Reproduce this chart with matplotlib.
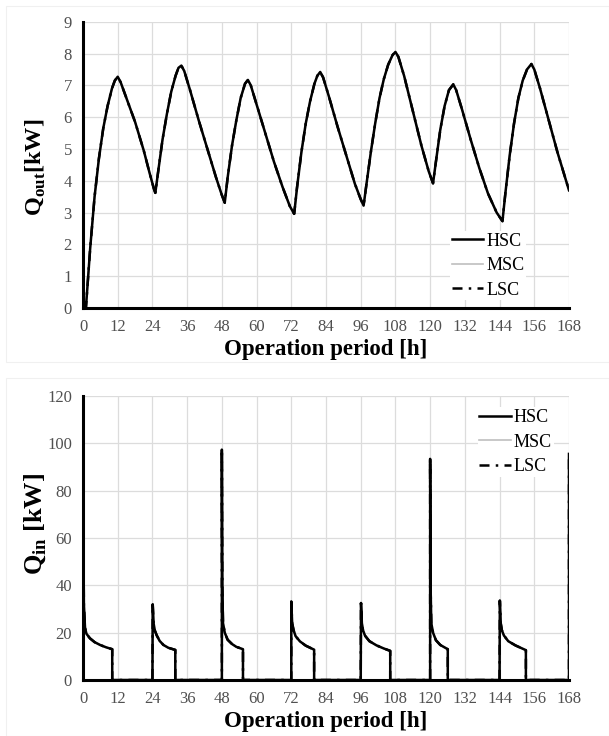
import matplotlib.pyplot as plt
from matplotlib.patches import Rectangle

plt.rcParams['font.family'] = ['Liberation Serif', 'DejaVu Serif']
plt.rcParams['mathtext.fontset'] = 'custom'
plt.rcParams['mathtext.rm'] = 'Liberation Serif'
plt.rcParams['mathtext.bf'] = 'Liberation Serif:bold'

# heat output (all three storage cases overlap in the source figure)
t_out = [0, 1, 2.5, 4, 5.5, 7, 8.5, 10, 11, 12, 13, 15, 18, 21, 23, 24.5, 25,
         26, 27.5, 29, 30.5, 32, 33, 34, 35, 37, 40, 43, 46, 48, 49,
         50, 51.5, 53, 54.5, 56, 57, 58, 60, 63, 66, 69, 71.5, 73,
         74, 75.5, 77, 78.5, 80, 81, 82, 83, 85, 88, 91, 94, 96, 97,
         98, 99.5, 101, 102.5, 104, 105.5, 107, 108, 109, 111, 114, 117, 119.5, 121,
         122, 123.5, 125, 126.5, 128, 129, 131, 134, 137, 140, 143, 145,
         146, 147.5, 149, 150.5, 152, 153.5, 155, 156, 158, 161, 164, 166.5, 168]
q_out = [0, 0, 1.9, 3.5, 4.7, 5.65, 6.35, 6.9, 7.15, 7.27, 7.1, 6.6, 5.85, 4.95, 4.25, 3.75, 3.62,
         4.3, 5.3, 6.1, 6.8, 7.3, 7.55, 7.62, 7.45, 6.85, 5.9, 5.0, 4.1, 3.55, 3.31,
         4.1, 5.1, 5.9, 6.6, 7.05, 7.17, 7.0, 6.4, 5.5, 4.6, 3.8, 3.2, 2.96,
         3.8, 4.9, 5.8, 6.5, 7.05, 7.3, 7.42, 7.25, 6.65, 5.7, 4.8, 3.9, 3.42, 3.22,
         3.9, 4.9, 5.8, 6.6, 7.2, 7.65, 7.95, 8.05, 7.9, 7.3, 6.2, 5.1, 4.3, 3.92,
         4.6, 5.6, 6.35, 6.85, 7.03, 6.85, 6.25, 5.3, 4.4, 3.6, 3.0, 2.73,
         3.6, 4.8, 5.8, 6.6, 7.15, 7.5, 7.67, 7.5, 6.9, 5.9, 4.9, 4.15, 3.7]

# heat input
t_in = [0, 0, 0.15, 0.3, 0.7, 1.2, 2.4, 4, 5.9, 8, 10.1, 10.1,
        24, 24.1, 24.4, 24.8, 25.5, 26.5, 27.8, 29.5, 31.9, 31.9,
        48, 48, 48.15, 48.4, 49, 50, 51.5, 53, 55.3, 55.3,
        72, 72, 72.3, 72.8, 73.5, 75, 77, 79.9, 79.9,
        96, 96.1, 96.4, 96.8, 97.5, 99, 101.5, 104, 106.2, 106.2,
        120, 120, 120.15, 120.4, 121, 122, 123.5, 126.1, 126.1,
        144, 144.1, 144.4, 144.8, 145.5, 147, 149.5, 153.1, 153.1,
        168, 168]
q_in = [0, 120, 60, 32, 22, 19.5, 17.6, 16, 14.8, 13.8, 13.0, 0,
        0, 32, 24, 21, 18.8, 16.5, 14.8, 13.6, 12.7, 0,
        0, 97.3, 40, 24, 20, 17, 15.2, 14, 13.0, 0,
        0, 33.1, 24, 21, 18.5, 16.3, 14.5, 12.8, 0,
        0, 32.5, 24, 21, 18.7, 16.4, 14.6, 13.3, 12.3, 0,
        0, 93.4, 40, 24, 20, 16.8, 14.8, 13.0, 0,
        0, 33.5, 24, 21, 18.8, 16.4, 14.6, 12.6, 0,
        0, 95.5]

cases = ['HSC', 'MSC', 'LSC']
draw_order = ['MSC', 'HSC', 'LSC']
x_ticks = list(range(0, 169, 12))

styles = {
    'HSC': dict(color='black', lw=1.8, ls='-'),
    'MSC': dict(color='#bfbfbf', lw=1.2, ls='-'),
    'LSC': dict(color='black', lw=1.8, ls=(0, (4, 2.5, 1, 2.5))),
}

fig = plt.figure(figsize=(6.09, 7.36), dpi=100)
fig.add_artist(Rectangle((6 / 609, 1 - 362 / 736), 603 / 609, 356 / 736,
                         transform=fig.transFigure, fill=False, ec='#f0f0f0', lw=0.8))
fig.add_artist(Rectangle((6 / 609, 0), 603 / 609, 358 / 736,
                         transform=fig.transFigure, fill=False, ec='#f0f0f0', lw=0.8))

ax1 = fig.add_axes([0.1363, 0.5815, 0.798, 0.389])
ax2 = fig.add_axes([0.1363, 0.0761, 0.798, 0.386])


def style_axis(ax, ymax, ystep, ylabel, label_size, label_y, leg_anchor):
    ax.set_xlim(0, 168)
    ax.set_ylim(0, ymax)
    ax.set_xticks(x_ticks)
    ax.set_yticks(range(0, ymax + 1, ystep))
    ax.grid(True, color='#dcdcdc', lw=0.9)
    ax.set_axisbelow(True)
    for s in ['top', 'right']:
        ax.spines[s].set_visible(False)
    for s in ['left', 'bottom']:
        ax.spines[s].set_linewidth(2.2)
        ax.spines[s].set_color('black')
        ax.spines[s].set_zorder(5)
    ax.tick_params(length=0, labelsize=12, labelcolor='#505050', pad=8)
    ax.set_xlabel('Operation period [h]', fontsize=16.5, fontweight='bold', labelpad=3)
    ax.set_ylabel(ylabel, fontsize=label_size, fontweight='bold')
    ax.yaxis.set_label_coords(-0.072, label_y)
    handles, labels = ax.get_legend_handles_labels()
    order = [labels.index(c) for c in cases]
    leg = ax.legend([handles[i] for i in order], cases, loc='upper left',
                    bbox_to_anchor=leg_anchor, fontsize=13,
                    frameon=True, facecolor='white', edgecolor='none', framealpha=1,
                    handlelength=1.75, handletextpad=0.15, labelspacing=0.42,
                    borderpad=0.1, borderaxespad=0)
    leg.set_zorder(6)


for c in draw_order:
    ax1.plot(t_out, q_out, label=c, **styles[c])
    ax2.plot(t_in, q_in, label=c, **styles[c])

style_axis(ax1, 9, 1, r'$\mathbf{Q}_{\mathbf{out}}$[kW]', 17.5, 0.49, (0.755, 0.27))
style_axis(ax2, 120, 20, r'$\mathbf{Q}_{\mathbf{in}}$ [kW]', 19, 0.55, (0.812, 0.96))

fig.savefig('out.png', dpi=100)
